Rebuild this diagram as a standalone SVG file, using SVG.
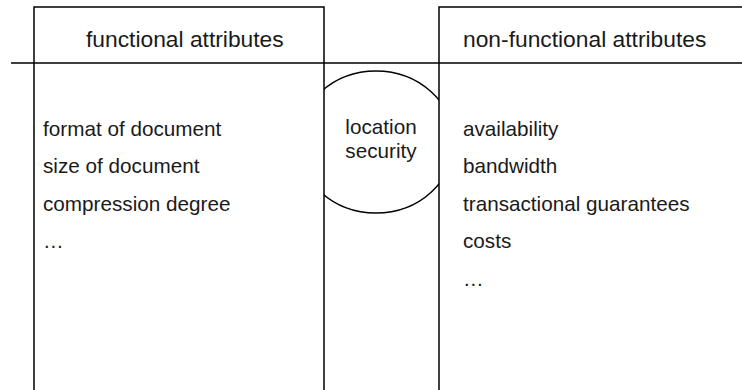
<svg xmlns="http://www.w3.org/2000/svg" width="742" height="390" viewBox="0 0 742 390">
  <style>
    .line { fill: none; stroke: #000; stroke-width: 1.5; }
    .box { fill: #fff; stroke: #000; stroke-width: 1.5; }
    text { font-family: "Liberation Sans", Arial, sans-serif; font-size: 20.7px; fill: #1a1a1a; }
    .head { font-size: 22.8px; }
    .c { text-anchor: middle; }
  </style>
  <rect width="742" height="390" fill="#fff"/>

  <!-- shared region between the two attribute columns -->
  <g id="shared">
    <ellipse class="line" cx="376" cy="142" rx="78" ry="71"/>
    <text class="c" x="381" y="134">location</text>
    <text class="c" x="381" y="158">security</text>
  </g>

  <!-- functional attributes column -->
  <g id="functional">
    <path class="box" d="M34,392 V7 H324 V392"/>
    <text class="head" x="86" y="47">functional attributes</text>
    <text x="43" y="135.5">format of document</text>
    <text x="43" y="173">size of document</text>
    <text x="43" y="210.5">compression degree</text>
    <text x="43" y="248">…</text>
  </g>

  <!-- non-functional attributes column -->
  <g id="non-functional">
    <path class="box" d="M439,392 V7 H744"/>
    <text class="head" x="463" y="47">non-functional attributes</text>
    <text x="463" y="135.5">availability</text>
    <text x="463" y="173">bandwidth</text>
    <text x="463" y="210.5">transactional guarantees</text>
    <text x="463" y="248">costs</text>
    <text x="463" y="285.5">…</text>
  </g>

  <!-- header separator -->
  <g id="connectors">
    <line class="line" x1="11" y1="63" x2="742" y2="63"/>
  </g>
</svg>
